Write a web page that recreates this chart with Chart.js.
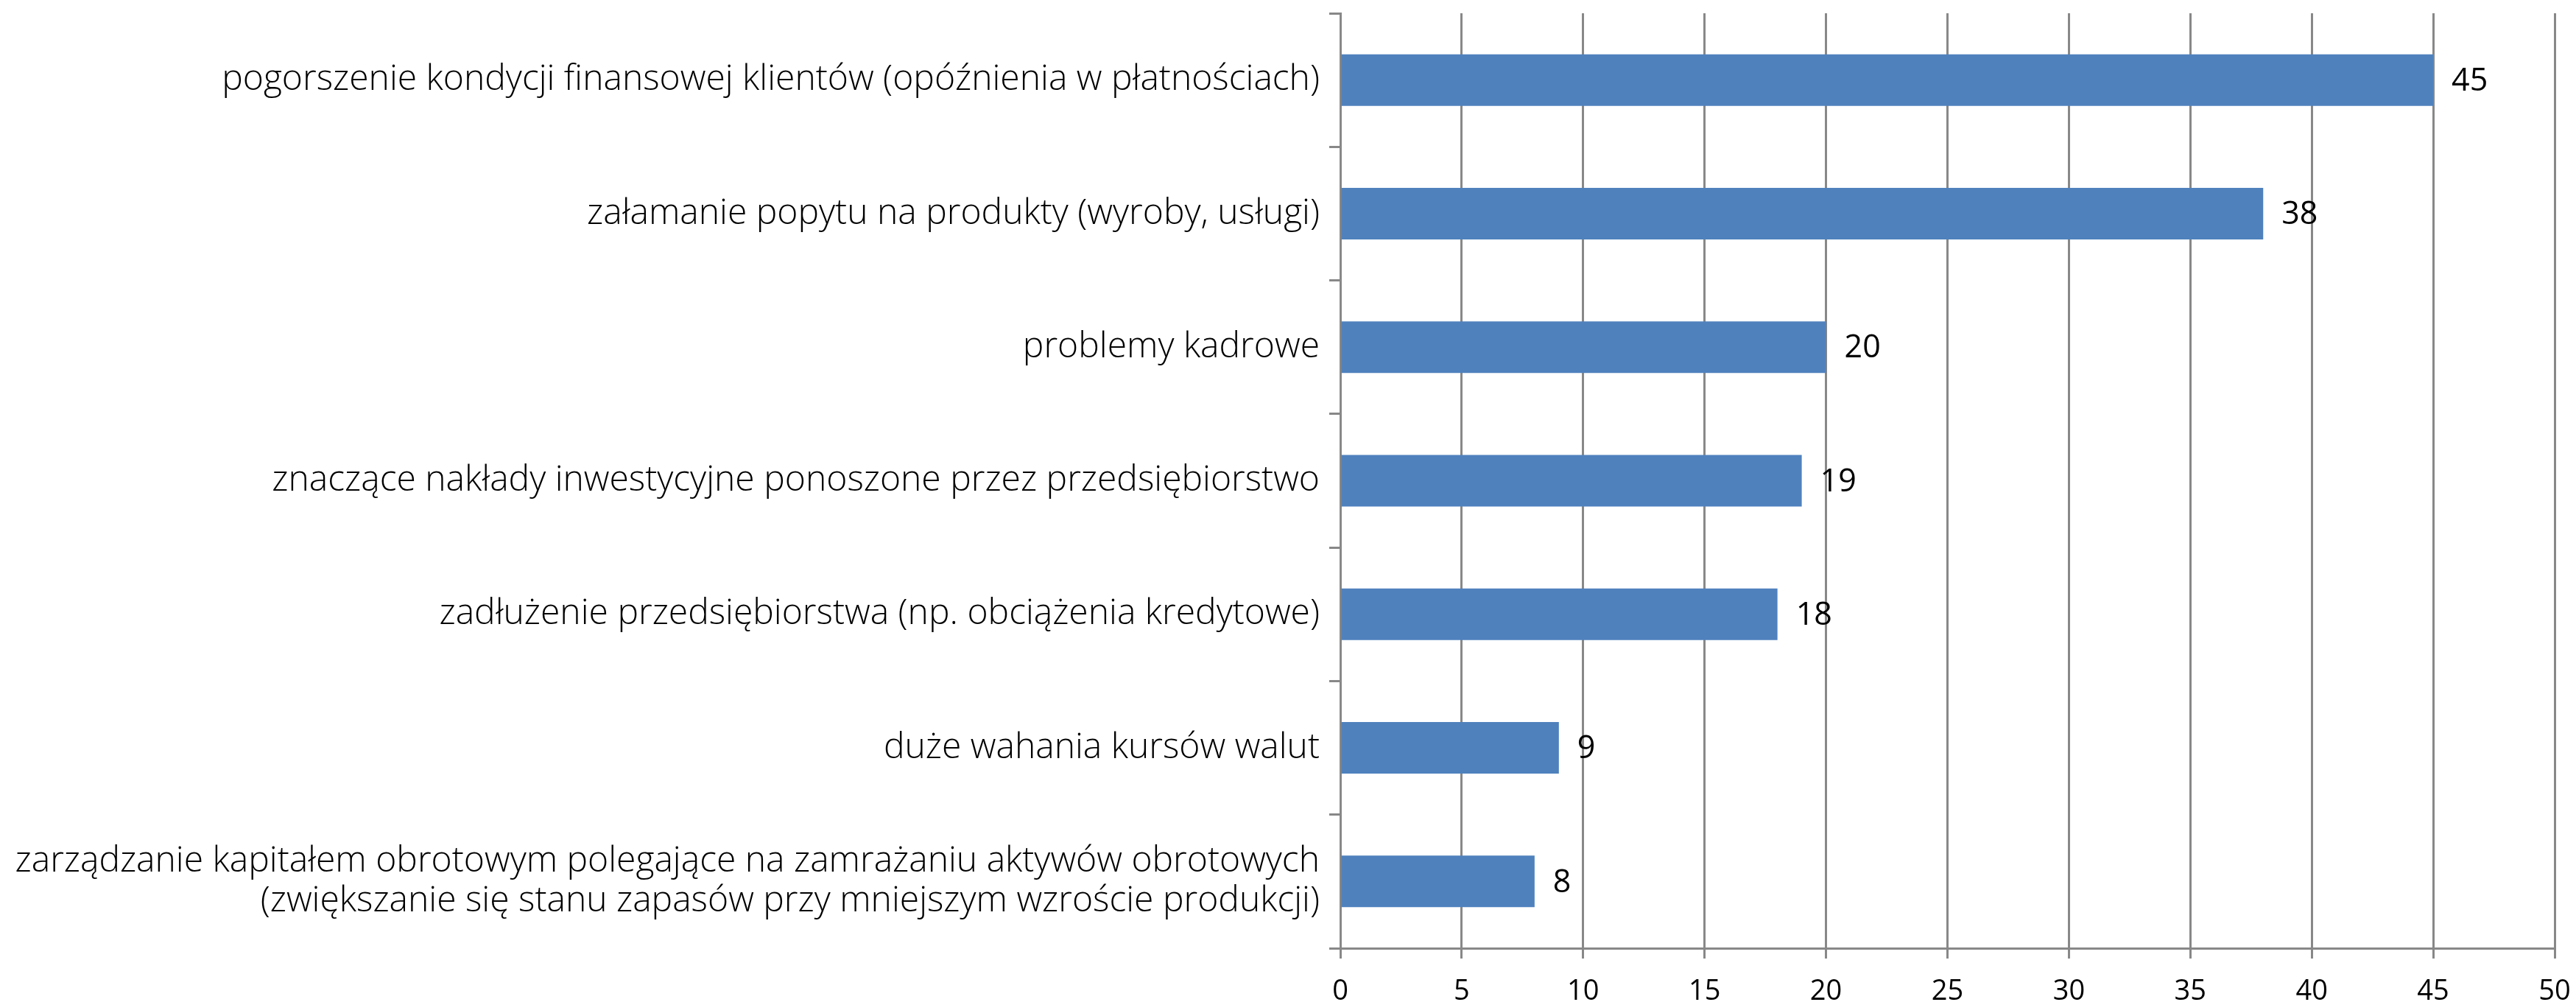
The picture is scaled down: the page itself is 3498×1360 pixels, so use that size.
<!DOCTYPE html>
<html><head><meta charset="utf-8">
<script src="https://cdn.jsdelivr.net/npm/chart.js@4/dist/chart.umd.min.js"></script>
<style>html,body{margin:0;padding:0;overflow:hidden;background:#fff}canvas{display:block}</style>
</head><body>
<canvas id="c" width="3498" height="1380" style="width:3498px;height:1380px"></canvas>
<script>
const categories = [
  "pogorszenie kondycji finansowej klientów (opóźnienia w płatnościach)",
  "załamanie popytu na produkty (wyroby, usługi)",
  "problemy kadrowe",
  "znaczące nakłady inwestycyjne ponoszone przez przedsiębiorstwo",
  "zadłużenie przedsiębiorstwa (np. obciążenia kredytowe)",
  "duże wahania kursów walut",
  ["zarządzanie kapitałem obrotowym polegające na zamrażaniu aktywów obrotowych",
   "(zwiększanie się stanu zapasów przy mniejszym wzroście produkcji)"]
];
const values = [45, 38, 20, 19, 18, 9, 8];
const xMin = 0, xMax = 50, xStep = 5;

const valueLabels = {
  id: 'valueLabels',
  afterDatasetsDraw(chart) {
    const ctx = chart.ctx;
    const meta = chart.getDatasetMeta(0);
    ctx.save();
    ctx.font = '400 43px "Open Sans"';
    ctx.fillStyle = '#000';
    ctx.textAlign = 'left';
    ctx.textBaseline = 'middle';
    meta.data.forEach((bar, i) => {
      ctx.fillText(String(values[i]), bar.x + 25, bar.y + 2);
    });
    ctx.restore();
  }
};

new Chart(document.getElementById('c'), {
  type: 'bar',
  data: {
    labels: categories,
    datasets: [{
      data: values,
      backgroundColor: '#4F81BD',
      borderWidth: 0,
      barPercentage: 0.386,
      categoryPercentage: 1
    }]
  },
  options: {
    indexAxis: 'y',
    responsive: false,
    animation: false,
    devicePixelRatio: 1,
    layout: { padding: { top: 18, right: 29, bottom: 0, left: 0 } },
    plugins: { legend: { display: false }, tooltip: { enabled: false } },
    scales: {
      x: {
        min: xMin, max: xMax,
        ticks: { stepSize: xStep, color: '#000', font: { family: 'Open Sans', size: 38 }, padding: 22, maxRotation: 0 },
        grid: { color: '#888', lineWidth: 3, tickLength: 14, tickColor: '#888' },
        border: { color: '#888', width: 3 },
        afterFit(scale) { scale.height = 1380 - 1287; scale.paddingLeft = 0; scale.paddingRight = 0; }
      },
      y: {
        ticks: { color: '#000', font: { family: 'Open Sans', size: 48, weight: 300, lineHeight: 1.115 }, padding: 13 },
        grid: { drawOnChartArea: false, color: '#888', lineWidth: 3, tickLength: 15, offset: true },
        border: { color: '#888', width: 3 },
        afterFit(scale) { scale.width = 1820; scale.paddingTop = 0; scale.paddingBottom = 0; }
      }
    }
  },
  plugins: [valueLabels]
});
</script>
</body></html>
